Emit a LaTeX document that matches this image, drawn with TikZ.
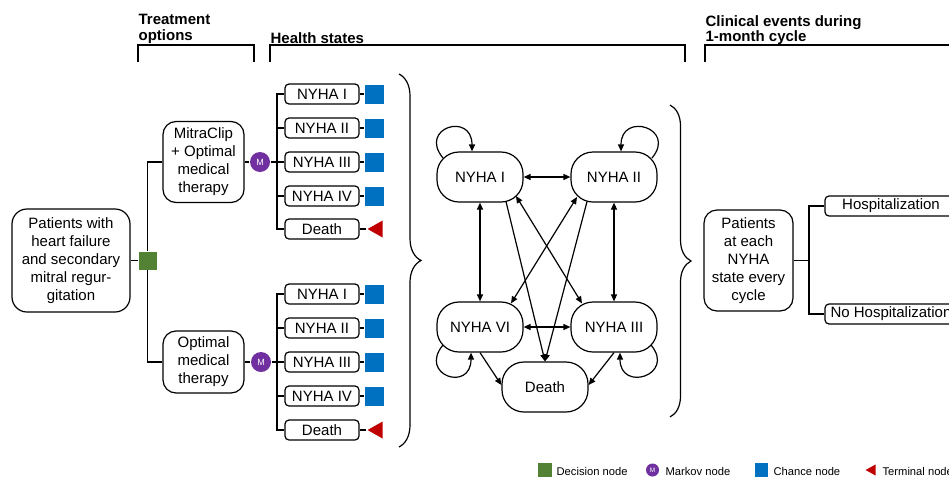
\documentclass[tikz,border=0pt]{standalone}
\usepackage{fontspec}
\setmainfont{Liberation Sans}
\usetikzlibrary{arrows.meta,calc,decorations.pathreplacing,shapes.geometric}
\definecolor{decgreen}{HTML}{548235}
\definecolor{markovpurple}{HTML}{7030A0}
\definecolor{chanceblue}{HTML}{0070C0}
\definecolor{termred}{HTML}{C00000}
\begin{document}
\begin{tikzpicture}[x=1pt,y=-1pt,line width=1.2pt,
  txt/.style={font=\fontsize{15}{18}\selectfont,align=center},
  box/.style={draw,rounded corners=4pt,minimum width=74pt,minimum height=20pt,inner sep=0pt,txt},
  bigbox/.style={draw,rounded corners=13pt,inner sep=0pt,txt},
  state/.style={draw,rounded corners=22pt,minimum width=86pt,minimum height=50pt,inner sep=0pt,txt},
  chance/.style={fill=chanceblue,minimum size=19pt,inner sep=0pt},
  decision/.style={fill=decgreen,minimum size=18pt,inner sep=0pt},
  markov/.style={circle,fill=markovpurple,minimum size=20pt,inner sep=0pt,text=white,font=\fontsize{9}{9}\selectfont},
  terminal/.style={fill=termred,isosceles triangle,isosceles triangle stretches,shape border rotate=180,minimum height=15pt,minimum width=17pt,inner sep=0pt},
  hdr/.style={font=\bfseries\fontsize{15}{15.5}\selectfont,align=left,inner sep=0pt,anchor=north west},
  arr/.style={-{Triangle[length=7pt,width=6pt]}},
  darr/.style={{Triangle[length=7pt,width=6pt]}-{Triangle[length=7pt,width=6pt]}},
  legtxt/.style={font=\fontsize{11.2}{12}\selectfont,anchor=base west,inner sep=0pt}]
\useasboundingbox (0,0) rectangle (949,477);
\clip (0,0) rectangle (949,477);

% headers
\node[hdr] (h1) at (138,14) {Treatment\\options};
\node[hdr] (h2) at (270,32) {Health states};
\node[hdr] (h3) at (705,15) {Clinical events during\\1-month cycle};
\draw (138,62) -- (138,45) -- (254,45) -- (254,62);
\draw (270,62) -- (270,45) -- (685,45) -- (685,62);
\draw (705,62) -- (705,45) -- (960,45);

% left tree
\node[bigbox,rounded corners=15pt,minimum width=118pt,minimum height=103pt] (P) at (71,260.5) {Patients with\\heart failure\\and secondary\\mitral regur-\\gitation};
\node[decision] (DN) at (147.5,260.5) {};
\node[bigbox,minimum width=81pt,minimum height=81pt] (MC) at (203.5,162) {MitraClip\\+ Optimal\\medical\\therapy};
\node[bigbox,minimum width=81pt,minimum height=62pt] (OM) at (203.5,362) {Optimal\\medical\\therapy};
\node[markov] (M1) at (260,162) {M};
\node[markov] (M2) at (261,362) {M};
\coordinate (j1) at (277,162);
\coordinate (j2) at (277,362);
\draw (P.east) -- (DN.west);
\draw (DN.north) |- (MC.west);
\draw (DN.south) |- (OM.west);
\draw (MC.east) -- (M1.west);
\draw (OM.east) -- (M2.west);
\draw (M1.east) -- (j1);
\draw (M2.east) -- (j2);

% upper health states
\node[box] (a1) at (322,94) {NYHA I};
\node[box] (a2) at (322,128) {NYHA II};
\node[box] (a3) at (322,162) {NYHA III};
\node[box] (a4) at (322,196) {NYHA IV};
\node[box] (a5) at (322,229) {Death};
\node[chance] (ca1) at (374.5,94) {};
\node[chance] (ca2) at (374.5,128) {};
\node[chance] (ca3) at (374.5,162) {};
\node[chance] (ca4) at (374.5,196) {};
\node[terminal,anchor=apex] (ta5) at (366,229) {};
\foreach \i in {1,...,5} {\draw (j1) |- (a\i.west);}
\foreach \i in {1,...,4} {\draw (a\i.east) -- (ca\i.west);}
\draw (a5.east) -- (ta5.apex);

% lower health states
\node[box] (b1) at (322,294) {NYHA I};
\node[box] (b2) at (322,328) {NYHA II};
\node[box] (b3) at (322,362) {NYHA III};
\node[box] (b4) at (322,396) {NYHA IV};
\node[box] (b5) at (322,430) {Death};
\node[chance] (cb1) at (374.5,294) {};
\node[chance] (cb2) at (374.5,328) {};
\node[chance] (cb3) at (374.5,362) {};
\node[chance] (cb4) at (374.5,396) {};
\node[terminal,anchor=apex] (tb5) at (366,430) {};
\foreach \i in {1,...,5} {\draw (j2) |- (b\i.west);}
\foreach \i in {1,...,4} {\draw (b\i.east) -- (cb\i.west);}
\draw (b5.east) -- (tb5.apex);

% braces
\draw[decorate,decoration={brace,amplitude=22pt}] (399,74) -- (399,447);
\draw[decorate,decoration={brace,amplitude=21pt}] (670,105) -- (670,417);

% Markov graph
\node[state] (NI) at (480,177) {NYHA I};
\node[state] (NII) at (614,177) {NYHA II};
\node[state] (NVI) at (480,327) {NYHA VI};
\node[state] (NIII) at (614,327) {NYHA III};
\node[state] (D) at (545,387) {Death};
\draw[darr] (NI.east) -- (NII.west);
\draw[darr] (NVI.east) -- (NIII.west);
\draw[darr] (NI.south) -- (NVI.north);
\draw[darr] (NII.south) -- (NIII.north);
\draw[arr] ($(NI.south)+(26,-1)$) -- (D.north);
\draw[arr] ($(NII.south)+(-27,-1)$) -- (D.north);
\draw[darr] ($(NI.center)+(36,19)$) -- ($(NIII.north)+(-32,2)$);
\draw[darr] ($(NII.center)+(-37,20)$) -- ($(NVI.north)+(31,2)$);
\draw[arr] (NVI.south) -- ($(D.west)+(0,-2)$);
\draw[arr] (NIII.south) -- ($(D.east)+(0,-2)$);
\draw[arr] ($(NI.center)+(-37,-19)$) .. controls +(-25,-30) and +(0,-40) .. ($(NI.north)+(-8,0)$);
\draw[arr] ($(NII.center)+(38,-19)$) .. controls +(25,-30) and +(0,-40) .. ($(NII.north)+(7,0)$);
\draw[arr] ($(NVI.center)+(-37,18)$) .. controls +(-25,30) and +(0,40) .. ($(NVI.south)+(-9,0)$);
\draw[arr] ($(NIII.center)+(37,18)$) .. controls +(25,30) and +(0,40) .. ($(NIII.south)+(6,0)$);

% right tree
\node[bigbox,minimum width=89pt,minimum height=101pt] (PR) at (748.5,260.5) {Patients\\at each\\NYHA\\state every\\cycle};
\coordinate (j3) at (809,260.5);
\node[box,minimum width=132pt] (H) at (891,206) {Hospitalization};
\node[box,minimum width=132pt] (NH) at (891,314) {No Hospitalization};
\draw (PR.east) -- (j3);
\draw (j3) |- (H.west);
\draw (j3) |- (NH.west);

% legend
\node[decision,minimum size=14pt] (L1) at (544.5,470) {};
\node[legtxt] (L1t) at (556,475) {Decision node};
\node[markov,minimum size=13pt,font=\fontsize{6.5}{6.5}\selectfont] (L2) at (652.5,470) {M};
\node[legtxt] (L2t) at (665,475) {Markov node};
\node[chance,minimum size=13.5pt] (L3) at (761.5,470) {};
\node[legtxt] (L3t) at (773,475) {Chance node};
\node[terminal,anchor=apex,minimum height=10pt,minimum width=11pt] (L4) at (864,470) {};
\node[legtxt] (L4t) at (882,475) {Terminal node};
\end{tikzpicture}
\end{document}
